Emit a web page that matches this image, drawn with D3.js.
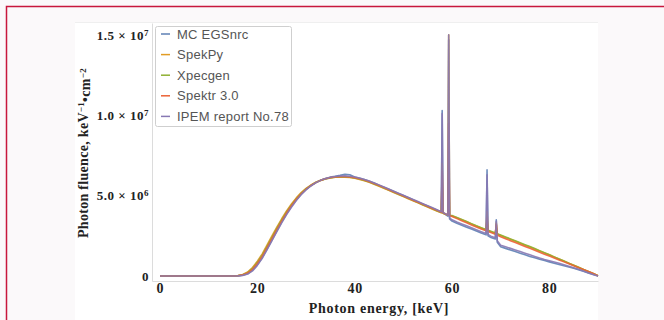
<!DOCTYPE html>
<html><head><meta charset="utf-8">
<script src="https://cdn.jsdelivr.net/npm/d3@7"></script>
<style>
html,body{margin:0;padding:0;background:#fbf9fa;}
svg{display:block;}
</style></head><body>
<svg id="c" width="664" height="320"></svg>
<script>
// Photon energy grid, keV
const energy = [0,5,10,15,
16,17,18,19,20,21,22,23,24,25,26,27,28,29,30,31,32,33,34,35,36,37,38,39,
40,41,42,43,44,45,46,47,48,49,50,51,52,53,54,55,56,57,
57.8,57.98,58.15,58.6,59.15,59.32,59.5,
60,61,62,63,64,65,66,67,
67.2,67.4,
68,68.9,69.1,69.3,
70,71,72,73,74,75,76,77,78,79,80,81,82,83,84,85,86,87,88,89,90];

// Photon fluence, units of 10^6 keV^-1 cm^-2
const mcEGSnrc = [0,0,0,0,
0.01,0.05,0.14,0.36,0.70,1.14,1.68,2.24,2.80,3.35,3.86,4.32,4.73,5.09,5.38,5.62,5.81,5.96,6.07,6.15,6.20,6.26,6.33,6.30,
6.16,6.08,6.00,5.89,5.78,5.65,5.53,5.40,5.27,5.14,5.01,4.88,4.74,4.61,4.48,4.35,4.22,4.09,
3.98,10.3,3.92,3.84,3.72,14.7,3.55,
3.42,3.28,3.16,3.04,2.92,2.80,2.68,2.56,
6.6,2.50,
2.40,2.30,3.5,2.10,
1.82,1.72,1.62,1.52,1.42,1.32,1.22,1.13,1.04,0.96,0.88,0.80,0.72,0.64,0.56,0.48,0.39,0.29,0.19,0.09,0.0];

const spekPy = [0,0,0,0,
0.03,0.10,0.25,0.53,0.92,1.38,1.93,2.49,3.04,3.56,4.05,4.48,4.86,5.19,5.45,5.66,5.83,5.96,6.05,6.11,6.14,6.15,6.15,6.13,
6.08,6.01,5.93,5.83,5.71,5.59,5.46,5.33,5.20,5.07,4.94,4.81,4.68,4.55,4.42,4.29,4.16,4.03,
3.93,7.0,3.90,3.84,3.78,15.0,3.76,
3.74,3.62,3.50,3.37,3.24,3.11,2.99,2.87,
4.0,2.83,
2.76,2.66,3.3,2.61,
2.52,2.40,2.28,2.16,2.04,1.92,1.80,1.68,1.56,1.44,1.32,1.19,1.06,0.93,0.80,0.67,0.54,0.41,0.28,0.15,0.02];

const xpecgen = [0,0,0,0,
0.02,0.08,0.21,0.47,0.85,1.30,1.85,2.41,2.96,3.49,3.98,4.42,4.81,5.15,5.42,5.64,5.82,5.95,6.04,6.10,6.14,6.16,6.16,6.14,
6.10,6.03,5.95,5.85,5.73,5.61,5.48,5.35,5.22,5.09,4.96,4.83,4.70,4.57,4.44,4.31,4.18,4.05,
3.95,5.8,3.92,3.86,3.80,7.0,3.78,
3.76,3.64,3.52,3.39,3.26,3.13,3.01,2.89,
3.4,2.85,
2.78,2.68,3.0,2.63,
2.55,2.43,2.31,2.19,2.07,1.95,1.83,1.71,1.58,1.45,1.32,1.19,1.06,0.93,0.80,0.67,0.54,0.41,0.28,0.15,0.02];

const spektr3 = [0,0,0,0,
0.02,0.07,0.18,0.42,0.78,1.22,1.76,2.32,2.88,3.42,3.92,4.37,4.77,5.12,5.40,5.63,5.81,5.95,6.05,6.12,6.16,6.18,6.18,6.16,
6.12,6.05,5.97,5.87,5.75,5.63,5.50,5.37,5.24,5.11,4.98,4.85,4.72,4.59,4.46,4.33,4.20,4.07,
3.97,6.5,3.93,3.87,3.80,9.5,3.76,
3.70,3.57,3.44,3.31,3.18,3.05,2.93,2.81,
3.6,2.77,
2.70,2.60,3.2,2.55,
2.44,2.32,2.20,2.08,1.96,1.84,1.72,1.60,1.48,1.36,1.24,1.12,1.00,0.88,0.76,0.64,0.52,0.40,0.28,0.15,0.02];

const ipem78 = [0,0,0,0,
0.01,0.04,0.12,0.32,0.66,1.10,1.64,2.20,2.76,3.31,3.82,4.28,4.70,5.06,5.36,5.60,5.80,5.95,6.06,6.14,6.19,6.22,6.23,6.21,
6.16,6.09,6.01,5.91,5.79,5.67,5.54,5.41,5.28,5.15,5.02,4.89,4.76,4.63,4.50,4.37,4.24,4.11,
4.00,10.1,3.95,3.88,3.78,15.0,3.62,
3.50,3.36,3.24,3.12,3.00,2.88,2.76,2.64,
6.3,2.58,
2.48,2.38,3.4,2.20,
1.92,1.82,1.72,1.62,1.52,1.42,1.32,1.22,1.12,1.03,0.95,0.87,0.79,0.70,0.61,0.52,0.42,0.31,0.20,0.10,0.0];

const seriesNames = ["MC EGSnrc","SpekPy","Xpecgen","Spektr 3.0","IPEM report No.78"];
const seriesValues = [mcEGSnrc, spekPy, xpecgen, spektr3, ipem78];
const colors = ["#5E81B5","#E19C24","#8FB032","#EB6235","#8778B3"];

const xTicks = [0,20,40,60,80];
const yTicks = [0,5,10,15];
const yTickMantissa = ["0","5.0 × 10","1.0 × 10","1.5 × 10"];
const yTickExponent = ["","6","7","7"];

const svg = d3.select("#c");
const serif = "'Liberation Serif','Times New Roman',serif";
const sans = "'Liberation Sans',Arial,sans-serif";

// background + frame
svg.append("rect").attr("width",664).attr("height",320).attr("fill","#fbf9fa");
svg.append("path").attr("d","M6.5,320V6.5H664").attr("fill","none")
  .attr("stroke","#c8173c").attr("stroke-width",1.5);
svg.append("rect").attr("x",75).attr("y",22).attr("width",523).attr("height",298).attr("fill","#ffffff");
svg.append("line").attr("x1",75).attr("x2",598).attr("y1",22.5).attr("y2",22.5).attr("stroke","#efefef");

const x = d3.scaleLinear().domain([-1.65,90]).range([152,598]);
const y = d3.scaleLinear().domain([-0.31,15.74]).range([281,23]);

// axes
const gx = svg.append("g").attr("transform","translate(0,281)")
  .call(d3.axisBottom(x).tickValues(xTicks).tickSize(0).tickPadding(2).tickFormat(d3.format("d")));
gx.select(".domain").attr("stroke","#dcdcdc");
gx.selectAll("text").attr("font-family",serif).attr("font-weight","bold").attr("font-size",14)
  .attr("letter-spacing","0.8px").attr("fill","#222");

const gy = svg.append("g").attr("transform","translate(152,0)")
  .call(d3.axisLeft(y).tickValues(yTicks).tickSize(0).tickPadding(3).tickFormat(""));
gy.select(".domain").attr("stroke","#dcdcdc");
gy.selectAll(".tick text").each(function(d,i){
  const t = d3.select(this).attr("font-family",serif).attr("font-weight","bold")
    .attr("font-size",13).attr("letter-spacing","0.5px").attr("fill","#222");
  t.text(null);
  t.append("tspan").text(yTickMantissa[i]);
  if (yTickExponent[i]) t.append("tspan").attr("dy","-0.45em").attr("font-size",9).text(yTickExponent[i]);
});

// axis titles
svg.append("text").attr("x",379).attr("y",313).attr("text-anchor","middle")
  .attr("font-family",serif).attr("font-weight","bold").attr("font-size",14)
  .attr("letter-spacing","0.7px").attr("fill","#222")
  .text("Photon energy, [keV]");
const yt = svg.append("text").attr("transform","translate(88,153) rotate(-90)").attr("text-anchor","middle")
  .attr("font-family",serif).attr("font-weight","bold").attr("font-size",14)
  .attr("letter-spacing","0.3px").attr("fill","#222");
yt.append("tspan").text("Photon fluence, keV");
yt.append("tspan").attr("dy","-0.45em").attr("font-size",9).text("−1");
yt.append("tspan").attr("dy","0.45em").text("•cm");
yt.append("tspan").attr("dy","-0.45em").attr("font-size",9).text("−2");

// series lines
const line = d3.line().x(d=>x(d[0])).y(d=>y(d[1]));
seriesValues.forEach((vals,i)=>{
  svg.append("path").datum(energy.map((e,k)=>[e,vals[k]]))
    .attr("d",line).attr("fill","none").attr("stroke",colors[i])
    .attr("stroke-width",1.6).attr("stroke-linejoin","round").attr("opacity",0.9);
});

// legend
const lg = svg.append("g");
lg.append("rect").attr("x",155.5).attr("y",26.5).attr("width",136).attr("height",100)
  .attr("rx",2).attr("fill","#ffffff").attr("stroke","#cfcfcf");
seriesNames.forEach((n,i)=>{
  const cy = 34 + i*20.6;
  lg.append("line").attr("x1",161).attr("x2",170).attr("y1",cy).attr("y2",cy)
    .attr("stroke",colors[i]).attr("stroke-width",1.5);
  lg.append("text").attr("x",177).attr("y",cy).attr("dy","0.35em")
    .attr("font-family",sans).attr("font-size",13).attr("letter-spacing","0.25px")
    .attr("fill","#555").text(n);
});
</script>
</body></html>
